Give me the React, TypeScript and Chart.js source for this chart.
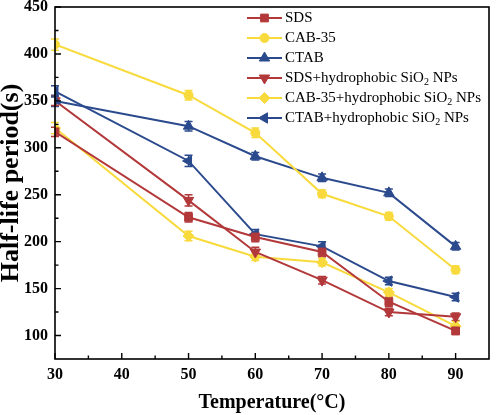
import React, { useEffect, useRef } from 'react';
import { Chart, registerables } from 'chart.js';
import { drawPoint } from 'chart.js/helpers';

Chart.register(...registerables);

// ---------- data ----------
const temperatures = [30, 50, 60, 70, 80, 90];

const sdsValues = [317, 226, 205, 189, 136, 105];
const cab35Values = [410, 356, 316, 251, 227, 170];
const ctabValues = [350, 323, 291, 268, 252, 195];
const sdsNpValues = [350, 244, 189, 159, 125, 120];
const cab35NpValues = [321, 206, 184, 178, 146, 110];
const ctabNpValues = [360, 286, 208, 195, 158, 141];

const sdsErrors = [5, 5, 5, 5, 5, 4];
const cab35Errors = [6, 5, 5, 4, 4, 4];
const ctabErrors = [6, 5, 4, 4, 4, 4];
const sdsNpErrors = [5, 6, 5, 4, 4, 4];
const cab35NpErrors = [6, 5, 4, 4, 4, 5];
const ctabNpErrors = [6, 6, 5, 5, 4, 4];

const seriesLabels = [
  'SDS',
  'CAB-35',
  'CTAB',
  'SDS+hydrophobic SiO2 NPs',
  'CAB-35+hydrophobic SiO2 NPs',
  'CTAB+hydrophobic SiO2 NPs',
];

const xTicks = [30, 40, 50, 60, 70, 80, 90];
const xMinorTicks = [35, 45, 55, 65, 75, 85];
const yTicks = [100, 150, 200, 250, 300, 350, 400, 450];
const yMinorTicks = [125, 175, 225, 275, 325, 375, 425];

const xTitle = 'Temperature(°C)';
const yTitle = 'Half-life period(s)';

// ---------- styles ----------
const RED = '#B2383A';
const YELLOW = '#F8DA3C';
const BLUE = '#2B4A8D';
const SERIF = "'Liberation Serif', 'Times New Roman', serif";

type Series = {
  label: string;
  values: number[];
  errors: number[];
  color: string;
  pointStyle: string;
  rotation: number;
  radius: number;
};

const series: Series[] = [
  { label: seriesLabels[0], values: sdsValues, errors: sdsErrors, color: RED, pointStyle: 'rect', rotation: 0, radius: 5.5 },
  { label: seriesLabels[1], values: cab35Values, errors: cab35Errors, color: YELLOW, pointStyle: 'circle', rotation: 0, radius: 4.5 },
  { label: seriesLabels[2], values: ctabValues, errors: ctabErrors, color: BLUE, pointStyle: 'triangle', rotation: 0, radius: 6 },
  { label: seriesLabels[3], values: sdsNpValues, errors: sdsNpErrors, color: RED, pointStyle: 'triangle', rotation: 180, radius: 6 },
  { label: seriesLabels[4], values: cab35NpValues, errors: cab35NpErrors, color: YELLOW, pointStyle: 'rectRot', rotation: 0, radius: 5.5 },
  { label: seriesLabels[5], values: ctabNpValues, errors: ctabNpErrors, color: BLUE, pointStyle: 'triangle', rotation: -90, radius: 6 },
];

const frameAndExtras = {
  id: 'frameAndExtras',
  beforeDatasetsDraw(chart: any) {
    const ctx = chart.ctx;
    const xs = chart.scales.x;
    const ys = chart.scales.y;
    ctx.save();
    series.forEach((s) => {
      ctx.strokeStyle = s.color;
      ctx.lineWidth = 1.5;
      s.values.forEach((v, j) => {
        const x = xs.getPixelForValue(temperatures[j]);
        const yt = ys.getPixelForValue(v + s.errors[j]);
        const yb = ys.getPixelForValue(v - s.errors[j]);
        ctx.beginPath();
        ctx.moveTo(x, yt);
        ctx.lineTo(x, yb);
        ctx.moveTo(x - 4, yt);
        ctx.lineTo(x + 4, yt);
        ctx.moveTo(x - 4, yb);
        ctx.lineTo(x + 4, yb);
        ctx.stroke();
      });
    });
    ctx.restore();
  },
  afterDraw(chart: any) {
    const ctx = chart.ctx;
    const { left, right, top, bottom } = chart.chartArea;
    const xs = chart.scales.x;
    const ys = chart.scales.y;
    ctx.save();
    // frame
    ctx.strokeStyle = '#000';
    ctx.lineWidth = 1.6;
    ctx.strokeRect(left, top, right - left, bottom - top);
    // inward ticks
    ctx.lineWidth = 1.4;
    ctx.beginPath();
    xTicks.forEach((t) => {
      const x = xs.getPixelForValue(t);
      ctx.moveTo(x, bottom);
      ctx.lineTo(x, bottom - 6);
    });
    xMinorTicks.forEach((t) => {
      const x = xs.getPixelForValue(t);
      ctx.moveTo(x, bottom);
      ctx.lineTo(x, bottom - 3.5);
    });
    yTicks.forEach((t) => {
      const y = ys.getPixelForValue(t);
      ctx.moveTo(left, y);
      ctx.lineTo(left + 6, y);
    });
    yMinorTicks.forEach((t) => {
      const y = ys.getPixelForValue(t);
      ctx.moveTo(left, y);
      ctx.lineTo(left + 3.5, y);
    });
    ctx.stroke();

    // legend
    const lx0 = 247;
    const lx1 = 282;
    const tx = 285;
    const fontSize = 15;
    series.forEach((s, i) => {
      const y = 18 + i * 20;
      ctx.strokeStyle = s.color;
      ctx.fillStyle = s.color;
      ctx.lineWidth = 2;
      ctx.beginPath();
      ctx.moveTo(lx0, y);
      ctx.lineTo(lx1, y);
      ctx.stroke();
      ctx.lineWidth = 1;
      drawPoint(ctx, { pointStyle: s.pointStyle, radius: s.radius, rotation: s.rotation, borderWidth: 1 } as any, (lx0 + lx1) / 2, y);
      // text with subscript
      ctx.fillStyle = '#000';
      ctx.textBaseline = 'middle';
      ctx.textAlign = 'left';
      const parts = s.label.split('SiO2');
      let x = tx;
      parts.forEach((p, k) => {
        ctx.font = `${fontSize}px ${SERIF}`;
        ctx.fillText(p, x, y);
        x += ctx.measureText(p).width;
        if (k < parts.length - 1) {
          ctx.fillText('SiO', x, y);
          x += ctx.measureText('SiO').width;
          ctx.font = `${Math.round(fontSize * 0.65)}px ${SERIF}`;
          ctx.fillText('2', x, y + 4);
          x += ctx.measureText('2').width;
        }
      });
    });
    ctx.restore();
  },
};

export default function App() {
  const canvasRef = useRef<HTMLCanvasElement | null>(null);

  useEffect(() => {
    document.body.style.margin = '0';
    const canvas = canvasRef.current;
    if (!canvas) return;
    const chart = new Chart(canvas, {
      type: 'line',
      data: {
        datasets: series.map((s) => ({
          label: s.label,
          data: s.values.map((v, j) => ({ x: temperatures[j], y: v })),
          borderColor: s.color,
          backgroundColor: s.color,
          borderWidth: 2,
          pointStyle: s.pointStyle as any,
          pointRotation: s.rotation,
          pointRadius: s.radius,
          pointBackgroundColor: s.color,
          pointBorderColor: s.color,
          pointBorderWidth: 1,
          fill: false,
          tension: 0,
        })),
      },
      options: {
        responsive: false,
        animation: false,
        layout: { padding: { left: 0, right: 2, top: 7, bottom: 0 } },
        plugins: {
          legend: { display: false },
          tooltip: { enabled: false },
        },
        scales: {
          x: {
            type: 'linear',
            min: 30,
            max: 95,
            afterBuildTicks: (scale: any) => {
              scale.ticks = xTicks.map((v) => ({ value: v }));
            },
            afterFit: (scale: any) => {
              scale.height = 56;
              scale.paddingLeft = 0;
              scale.paddingRight = 0;
            },
            grid: { display: false, drawTicks: false },
            border: { display: false },
            ticks: {
              color: '#000',
              padding: 6,
              maxRotation: 0,
              font: { family: SERIF, size: 16, weight: 'bold' },
            },
            title: {
              display: true,
              text: xTitle,
              color: '#000',
              padding: { top: 0, bottom: 0 },
              font: { family: SERIF, size: 20, weight: 'bold', lineHeight: 1.2 },
            },
          },
          y: {
            type: 'linear',
            min: 75,
            max: 450,
            afterBuildTicks: (scale: any) => {
              scale.ticks = yTicks.map((v) => ({ value: v }));
            },
            afterFit: (scale: any) => {
              scale.width = 55;
              scale.paddingTop = 0;
              scale.paddingBottom = 0;
            },
            grid: { display: false, drawTicks: false },
            border: { display: false },
            ticks: {
              color: '#000',
              padding: 7,
              font: { family: SERIF, size: 16, weight: 'bold' },
            },
            title: {
              display: true,
              text: yTitle,
              color: '#000',
              padding: { top: 0, bottom: 0 },
              font: { family: SERIF, size: 26, weight: 'bold', lineHeight: 0.85 },
            },
          },
        },
      },
      plugins: [frameAndExtras],
    });
    return () => chart.destroy();
  }, []);

  return (
    <div style={{ width: 496, height: 415, background: '#fff' }}>
      <canvas ref={canvasRef} width={496} height={415} />
    </div>
  );
}
